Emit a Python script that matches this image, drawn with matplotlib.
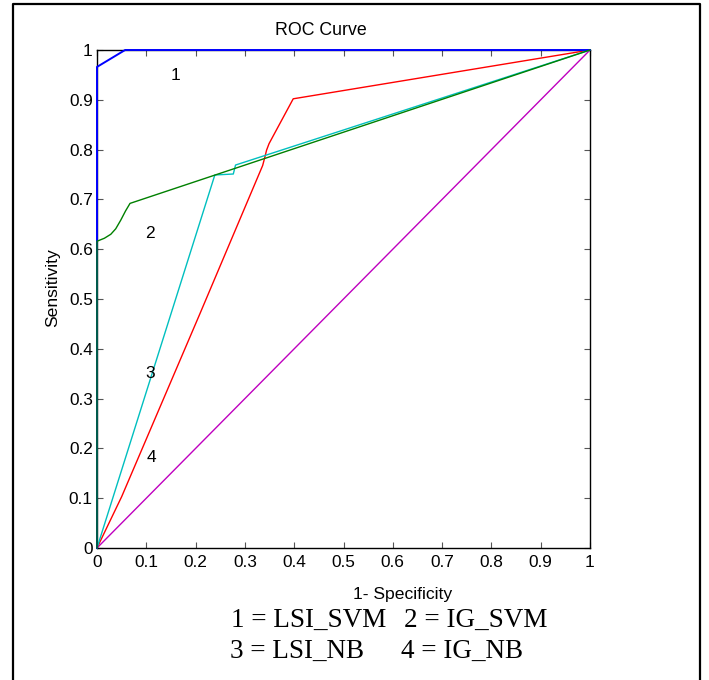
import matplotlib
matplotlib.use('Agg')
import matplotlib.pyplot as plt
from matplotlib.lines import Line2D

# ROC points (1-specificity, sensitivity)
fpr_lsi_svm = [0, 0, 0.057, 1]
tpr_lsi_svm = [0, 0.966, 1, 1]

fpr_ig_svm = [0, 0, 0.015, 0.028, 0.038, 0.048, 0.058, 0.067, 1]
tpr_ig_svm = [0, 0.616, 0.622, 0.630, 0.641, 0.658, 0.677, 0.692, 1]

fpr_lsi_nb = [0, 0.239, 0.2765, 0.281, 1]
tpr_lsi_nb = [0, 0.749, 0.751, 0.769, 1]

fpr_ig_nb = [0, 0.05, 0.209, 0.336, 0.340, 0.344, 0.349, 0.398, 1]
tpr_ig_nb = [0, 0.103, 0.471, 0.768, 0.783, 0.799, 0.812, 0.902, 1]

fpr_chance = [0, 1]
tpr_chance = [0, 1]

curve_labels = ['1', '2', '3', '4']
label_pos = [(0.16, 0.948), (0.1075, 0.632), (0.1075, 0.351), (0.11, 0.182)]
ticks = [0, 0.1, 0.2, 0.3, 0.4, 0.5, 0.6, 0.7, 0.8, 0.9, 1]
tick_labels = ['0', '0.1', '0.2', '0.3', '0.4', '0.5', '0.6', '0.7', '0.8', '0.9', '1']

W, H = 709, 680
plt.rcParams['font.family'] = ['Liberation Sans', 'DejaVu Sans']
fig = plt.figure(figsize=(W / 100, H / 100), dpi=100)
fig.patch.set_facecolor('white')


def fx(px):
    return px / W


def fy(py):
    return 1 - py / H


ax = fig.add_axes([fx(97), fy(548), fx(590) - fx(97), fy(50) - fy(548)])

lw = 1.0
ax.plot(fpr_chance, tpr_chance, color=(0.75, 0.0, 0.75), lw=lw, zorder=3, clip_on=False)
ax.plot(fpr_ig_nb, tpr_ig_nb, color=(1, 0, 0), lw=lw, zorder=3, clip_on=False)
ax.plot(fpr_lsi_nb, tpr_lsi_nb, color=(0, 0.75, 0.75), lw=lw, zorder=3, clip_on=False)
ax.plot(fpr_lsi_svm, tpr_lsi_svm, color=(0, 0, 1), lw=1.4, zorder=3, clip_on=False)
ax.plot(fpr_ig_svm, tpr_ig_svm, color=(0, 0.5, 0), lw=lw, zorder=3, clip_on=False)

for lab, (x, y) in zip(curve_labels, label_pos):
    ax.text(x, y, lab, fontsize=12.5, ha='center', va='center')

ax.set_xlim(0, 1)
ax.set_ylim(0, 1)
ax.set_xticks(ticks)
ax.set_yticks(ticks)
ax.set_xticklabels(tick_labels)
ax.set_yticklabels(tick_labels)
ax.tick_params(direction='in', length=4, width=0.8, labelsize=12.4,
               top=True, right=True, color='#555555')
ax.tick_params(axis='x', pad=5)
ax.tick_params(axis='y', pad=3)
for sp in ax.spines.values():
    sp.set_linewidth(1.0)

# title and axis labels (placed as in the original, not centred on axes)
fig.text(fx(321), fy(35), 'ROC Curve', fontsize=12.8, ha='center', va='baseline')
fig.text(fx(403), fy(599), '1- Specificity', fontsize=12.6, ha='center', va='baseline')
fig.text(fx(57), fy(288), 'Sensitivity', fontsize=12.6, ha='center', va='baseline',
         rotation=90, rotation_mode='anchor')

# key below the plot
serif = ['Liberation Serif', 'DejaVu Serif']
fig.text(fx(231), fy(627), '1 = LSI_SVM', fontsize=19.5, family=serif, va='baseline')
fig.text(fx(404), fy(627), '2 = IG_SVM', fontsize=19.5, family=serif, va='baseline')
fig.text(fx(230), fy(658), '3 = LSI_NB', fontsize=19.5, family=serif, va='baseline')
fig.text(fx(401), fy(658), '4 = IG_NB', fontsize=19.5, family=serif, va='baseline')

# frame around the figure (open at the bottom edge)
fig.add_artist(Line2D([fx(13), fx(13), fx(700), fx(700)],
                      [fy(685), fy(4), fy(4), fy(685)],
                      color='black', lw=1.6, transform=fig.transFigure))

fig.savefig('out.png', dpi=100)
